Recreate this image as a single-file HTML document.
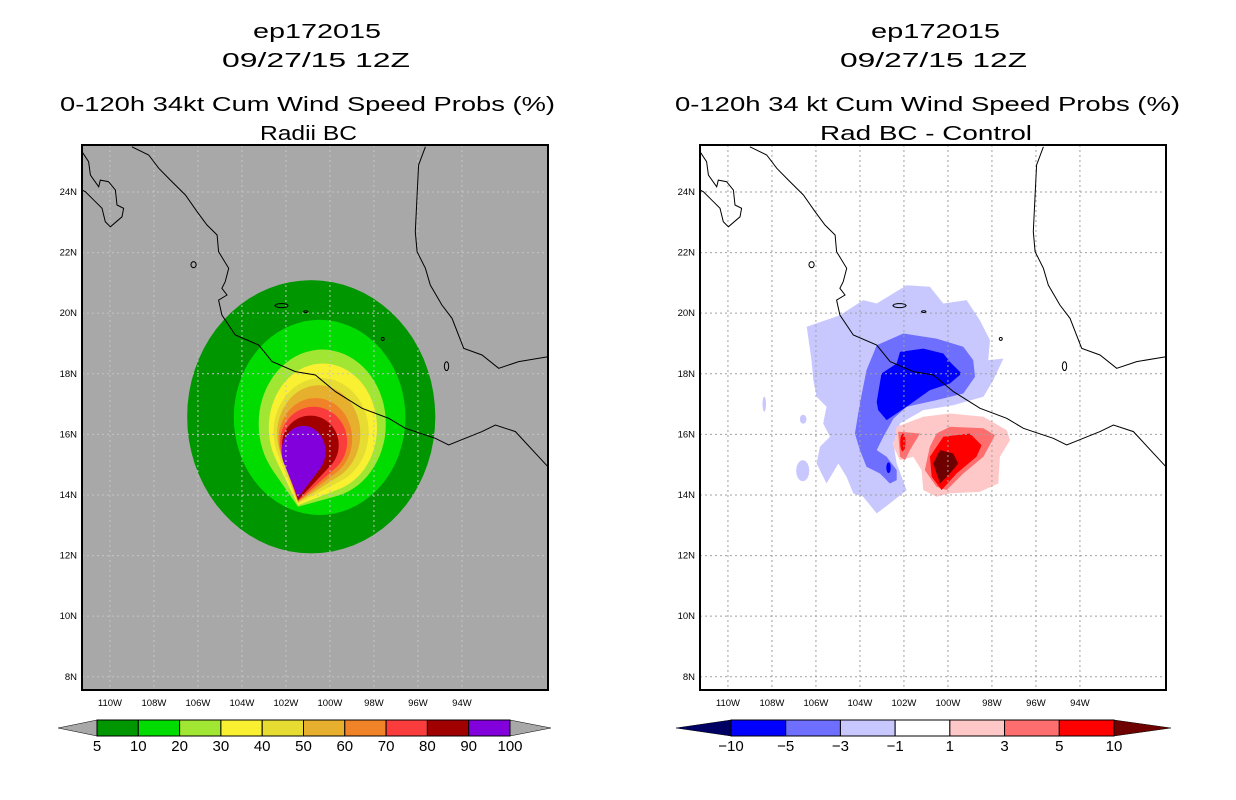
<!DOCTYPE html>
<html><head><meta charset="utf-8"><style>
html,body{margin:0;padding:0;background:#fff;}
svg{display:block;font-family:"Liberation Sans",sans-serif;}
</style></head><body>
<svg id="fig" width="1236" height="800" viewBox="0 0 1236 800" xmlns="http://www.w3.org/2000/svg">
<defs>
<clipPath id="clipL"><rect x="82" y="145" width="466" height="545"/></clipPath>
<clipPath id="clipR"><rect x="700" y="145" width="466" height="545"/></clipPath>
</defs>
<g font-size="20" fill="#000">
<text x="253" y="38" textLength="128" lengthAdjust="spacingAndGlyphs">ep172015</text>
<text x="222" y="67" textLength="188" lengthAdjust="spacingAndGlyphs">09/27/15 12Z</text>
<text x="60" y="111" textLength="495" lengthAdjust="spacingAndGlyphs">0-120h 34kt Cum Wind Speed Probs (%)</text>
<text x="260" y="140" textLength="97" lengthAdjust="spacingAndGlyphs">Radii BC</text>
</g>
<g font-size="20" fill="#000">
<text x="871" y="38" textLength="129" lengthAdjust="spacingAndGlyphs">ep172015</text>
<text x="840" y="67" textLength="187" lengthAdjust="spacingAndGlyphs">09/27/15 12Z</text>
<text x="675" y="111" textLength="505" lengthAdjust="spacingAndGlyphs">0-120h 34 kt Cum Wind Speed Probs (%)</text>
<text x="820" y="140" textLength="212" lengthAdjust="spacingAndGlyphs">Rad BC - Control</text>
</g>
<g id="L"></g><g id="R"></g><g id="CB"></g>
</svg>
<script>
const NS="http://www.w3.org/2000/svg";
// ---- data ----
const latTicks=[24,22,20,18,16,14,12,10,8];
const lonTicks=[110,108,106,104,102,100,98,96,94];
const probLevels=[5,10,20,30,40,50,60,70,80,90,100];
const probColors=["#009600","#00dc00","#a0e632","#faf032","#e6dc32","#e6af2d","#f08228","#fa3c3c","#a00000","#8200dc"];
const diffLevels=[-10,-5,-3,-1,1,3,5,10];
const diffColors=["#0000ff","#6e6eff","#c8c8ff","#ffffff","#ffc8c8","#ff6e6e","#ff0000"];
// probability contours: [level, centerLonW, centerLat, rxDeg, ryDeg, tipLonW, tipLat]
const probContours=[
 [5,100.85,16.58,5.64,4.51,null,null],
 [10,100.47,16.56,3.90,3.22,null,null],
 [20,100.35,16.35,2.89,2.45,101.45,13.61],
 [30,100.32,16.22,2.46,2.12,101.45,13.66],
 [40,100.40,16.08,2.16,1.78,101.45,13.72],
 [50,100.51,16.02,1.89,1.60,101.45,13.76],
 [60,100.66,15.85,1.67,1.35,101.45,13.78],
 [70,100.74,15.76,1.52,1.15,101.45,13.80],
 [80,100.89,15.65,1.29,0.97,101.45,13.83],
 [90,101.20,15.43,1.00,0.85,101.45,13.91]
];
// difference polygons [lonW,lat]
const diffLightBlue=[[106.42,19.55],[104.91,19.93],[103.85,20.43],[103.24,20.32],[101.88,20.92],[100.82,20.87],[100.21,20.32],[99.15,20.43],[98.55,19.77],[98.09,19.11],[98.17,18.45],[97.48,18.50],[97.94,17.79],[98.39,17.24],[99.76,16.96],[101.12,16.80],[102.18,16.36],[102.48,15.70],[102.33,15.04],[101.88,14.16],[102.64,13.72],[103.24,13.39],[103.85,13.94],[104.30,14.05],[104.61,14.60],[104.98,15.04],[105.52,14.38],[105.97,15.04],[105.82,15.59],[105.36,15.92],[105.67,16.36],[105.52,16.91],[105.97,17.24],[106.12,17.79],[106.20,18.45]];
const diffLightBlueSmall=[[108.35,17.0,0.08,0.25],[106.58,16.5,0.15,0.15],[106.6,14.8,0.3,0.35]];
const diffMidBlue=[[103.24,18.94],[102.03,19.33],[100.52,19.16],[99.30,18.89],[98.85,18.45],[98.77,17.90],[99.30,17.35],[100.52,17.13],[101.88,16.91],[102.48,16.52],[102.94,15.92],[103.24,15.48],[102.79,15.26],[102.33,14.82],[102.33,14.49],[102.64,14.38],[103.09,14.71],[103.70,14.93],[104.00,15.48],[104.23,16.03],[104.00,17.02],[103.70,18.12],[103.39,18.67]];
const diffBlue=[[102.18,18.72],[101.12,18.83],[100.21,18.67],[99.91,18.39],[99.38,18.01],[99.91,17.68],[100.82,17.46],[101.88,16.91],[102.79,16.47],[103.17,16.80],[103.24,17.07],[103.02,18.01],[102.33,18.34]];
const diffBlueSmall=[[102.7,14.9,0.1,0.18]];
const diffLightRed=[[102.33,16.25],[101.12,16.58],[99.91,16.69],[98.39,16.58],[97.33,16.14],[97.18,15.81],[97.64,15.26],[97.71,14.38],[98.55,14.10],[99.91,14.05],[100.52,13.94],[101.12,14.16],[101.20,14.82],[101.58,15.26],[101.88,15.20],[102.18,15.15],[102.48,15.59]];
const diffMidRed=[[100.52,16.03],[99.91,16.25],[98.39,16.20],[97.86,15.97],[98.39,15.26],[99.30,14.71],[100.06,14.16],[100.52,14.27],[101.05,14.82],[100.82,15.59]];
const diffMidRedSmall=[[102.26,16.09],[101.27,16.03],[101.73,15.48],[101.95,15.15],[102.18,15.26]];
const diffRed=[[100.21,15.92],[99.0,16.03],[98.47,15.64],[98.70,15.26],[99.61,14.71],[100.29,14.16],[100.74,14.60],[100.82,15.26]];
const diffRedSmall=[[102.05,15.73,0.12,0.3]];
const diffDarkRed=[[100.36,15.48],[99.76,15.37],[99.53,15.04],[99.98,14.65],[100.36,14.38],[100.67,15.04]];
// coastlines
const coastPacific=[[109.0,25.49],[108.24,25.22],[107.78,24.78],[107.25,24.39],[106.57,23.90],[106.04,23.35],[105.59,22.91],[105.13,22.58],[105.06,22.03],[104.60,21.48],[104.76,21.04],[104.91,20.82],[104.68,20.60],[105.06,20.43],[104.91,19.94],[104.30,19.28],[103.24,18.95],[102.63,18.40],[101.57,18.07],[100.66,17.96],[99.75,17.41],[98.54,16.86],[97.33,16.53],[96.57,16.20],[95.21,15.87],[94.60,15.65],[93.85,15.87],[93.09,16.09],[92.48,16.31],[91.57,16.09],[90.09,14.93]];
const coastGulf=[[95.66,25.49],[95.97,24.89],[96.04,23.90],[96.12,22.69],[96.04,22.03],[95.66,21.48],[95.44,20.93],[94.91,20.27],[94.45,19.83],[93.92,18.84],[93.09,18.62],[92.33,18.18],[91.42,18.40],[90.09,18.56]];
const coastBaja=[[111.27,25.33],[110.97,25.0],[110.89,24.56],[110.51,24.17],[110.44,24.39],[110.06,24.34],[109.75,24.06],[109.68,23.57],[109.38,23.46],[109.45,23.18],[109.98,22.85],[110.21,23.02],[110.36,23.46],[110.66,23.68],[111.12,24.01],[111.27,24.06]];
const islands=[[106.2,21.6,0.12,0.1],[102.2,20.25,0.3,0.07],[94.7,18.25,0.1,0.15],[97.6,19.15,0.07,0.05],[101.1,20.05,0.1,0.03]];

// ---- axes ----
function xOf(lonW,off){return 82+off+(111.27-lonW)*22;}
function yOf(lat){return 145+(25.55-lat)*30.3;}
function mk(tag,attrs,parent){const e=document.createElementNS(NS,tag);for(const k in attrs)e.setAttribute(k,attrs[k]);parent.appendChild(e);return e;}
function ptsStr(pts,off){return pts.map(p=>xOf(p[0],off).toFixed(1)+","+yOf(p[1]).toFixed(1)).join(" ");}
function ellipsePts(cx,cy,rx,ry,n){const a=[];for(let i=0;i<n;i++){const t=i/n*2*Math.PI;a.push([cx+rx*Math.cos(t),cy+ry*Math.sin(t)]);}return a;}
function hull(points){const p=points.map(q=>[-q[0],q[1]]).sort((a,b)=>a[0]-b[0]||a[1]-b[1]);
 const cr=(o,a,b)=>(a[0]-o[0])*(b[1]-o[1])-(a[1]-o[1])*(b[0]-o[0]);
 const lo=[],up=[];for(const q of p){while(lo.length>=2&&cr(lo[lo.length-2],lo[lo.length-1],q)<=0)lo.pop();lo.push(q);}
 for(let i=p.length-1;i>=0;i--){const q=p[i];while(up.length>=2&&cr(up[up.length-2],up[up.length-1],q)<=0)up.pop();up.push(q);}
 up.pop();lo.pop();return lo.concat(up).map(q=>[-q[0],q[1]]);}

function panel(g,off,bg,gridColor,clipId,pfx){
 mk('rect',{x:82+off,y:145,width:466,height:545,fill:bg},g);
 const c=mk('g',{'clip-path':'url(#'+clipId+')'},g);
 
 
 return c;
}
function grid(c,off,col,pfx){
 const gg=mk('g',{stroke:col,'stroke-width':1,'stroke-dasharray':'2,3'},c);
 
 
 lonTicks.forEach(l=>mk('line',{x1:xOf(l,off),x2:xOf(l,off),y1:145,y2:690},gg));
 latTicks.forEach(l=>mk('line',{x1:82+off,x2:548+off,y1:yOf(l),y2:yOf(l)},gg));
}
function coast(c,off,pfx){
 const cg=mk('g',{fill:'none',stroke:'#000','stroke-width':1},c);
 
 
 [coastPacific,coastGulf,coastBaja].forEach(a=>mk('polyline',{points:ptsStr(a,off)},cg));
 islands.forEach(i=>mk('polygon',{points:ptsStr(ellipsePts(i[0],i[1],i[2],i[3],10),off)},cg));
}
function axes(g,off,pfx){
 mk('rect',{x:82+off,y:145,width:466,height:545,fill:'none',stroke:'#000','stroke-width':2},g);
 const t=mk('g',{'font-size':9.5,fill:'#000'},g);
 
 
 latTicks.forEach(l=>{const e=mk('text',{x:77+off,y:yOf(l)+3,'text-anchor':'end'},t);e.textContent=l+'N';});
 lonTicks.forEach(l=>{const e=mk('text',{x:xOf(l,off),y:706,'text-anchor':'middle'},t);e.textContent=l+'W';});
}

// left panel
const L=document.getElementById('L');


const cL=panel(L,0,'#a8a8a8','#b8b8b8','clipL','left');
probContours.forEach((pc,i)=>{
 let pts=ellipsePts(pc[1],pc[2],pc[3],pc[4],72);
 if(pc[5]!==null){pts=hull(pts.concat([[pc[5],pc[6]]]));}
 const p=mk('polygon',{points:ptsStr(pts,0),fill:probColors[i]},cL);
 
 
});
grid(cL,0,'#c4c4c4','left');
coast(cL,0,'left');
axes(L,0,'left');

// right panel
const R=document.getElementById('R');


const cR=panel(R,618,'#ffffff','#a0a0a0','clipR','right');
function dpoly(arr,col,name){const p=mk('polygon',{points:ptsStr(arr,618),fill:col},cR);
 
 }
function dell(arr,col,name){arr.forEach(e=>dpoly(ellipsePts(e[0],e[1],e[2],e[3],16),col,name));}
dpoly(diffLightBlue,diffColors[2],'diff-minus1-area');
dell(diffLightBlueSmall,diffColors[2],'diff-minus1-spot');
dpoly(diffMidBlue,diffColors[1],'diff-minus3-area');
dpoly(diffBlue,diffColors[0],'diff-minus5-area');
dell(diffBlueSmall,diffColors[0],'diff-minus5-spot');
dpoly(diffLightRed,diffColors[4],'diff-plus1-area');
dpoly(diffMidRed,diffColors[5],'diff-plus3-area');
dpoly(diffMidRedSmall,diffColors[5],'diff-plus3-spot');
dpoly(diffRed,diffColors[6],'diff-plus5-area');
dell(diffRedSmall,diffColors[6],'diff-plus5-spot');
dpoly(diffDarkRed,'#6e0000','diff-plus10-area');
grid(cR,618,'#a0a0a0','right');
coast(cR,618,'right');
axes(R,618,'right');

// colorbars
const CB=document.getElementById('CB');
function colorbar(x0,x1,tipL,tipR,levels,colors,triL,triR,name){
 const g=mk('g',{},CB);
 
 
 const y0=720,y1=736,n=colors.length,w=(x1-x0)/n;
 mk('polygon',{points:`${tipL},${(y0+y1)/2} ${x0},${y0} ${x0},${y1}`,fill:triL,stroke:'#000','stroke-width':0.5},g);
 mk('polygon',{points:`${tipR},${(y0+y1)/2} ${x1},${y0} ${x1},${y1}`,fill:triR,stroke:'#000','stroke-width':0.5},g);
 colors.forEach((c,i)=>{const r=mk('rect',{x:x0+i*w,y:y0,width:w,height:y1-y0,fill:c,stroke:'#000','stroke-width':1},g);
  
  });
 levels.forEach((l,i)=>{const t=mk('text',{x:x0+i*w,y:751,'text-anchor':'middle','font-size':15},g);
  t.textContent=String(l).replace('-','\u2212');});
}
colorbar(97,510,58,551,probLevels,probColors,'#a8a8a8','#a8a8a8','prob-colorbar');
colorbar(731,1114,676,1171,diffLevels,diffColors,'#000064','#6e0000','diff-colorbar');
</script>
</body></html>
